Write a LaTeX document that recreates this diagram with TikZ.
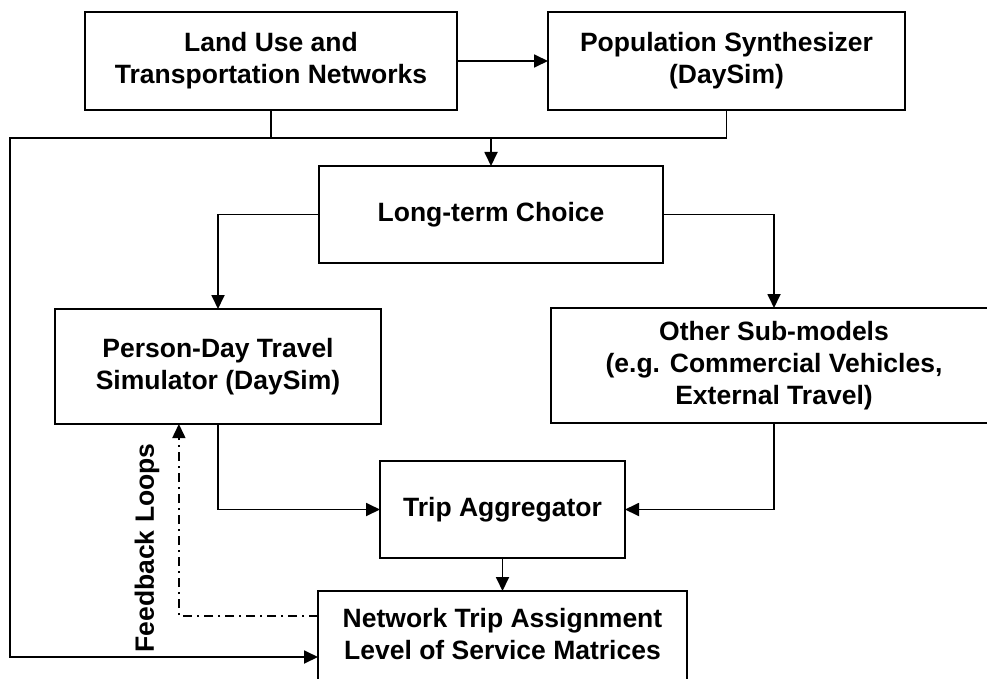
\documentclass[tikz,border=0pt]{standalone}
\usepackage{fontspec}
\setmainfont{Liberation Sans}
\usetikzlibrary{arrows.meta,calc}
\begin{document}
\begin{tikzpicture}[x=1pt,y=-1pt,
  every node/.style={inner sep=0pt, outer sep=0pt},
  txt/.style={font=\fontsize{26.5}{32}\selectfont\bfseries, align=center},
  box/.style={draw, line width=1.8pt, txt},
  conn/.style={line width=1.8pt},
  arr/.style={conn, -{Triangle[length=14pt,width=13pt]}},
  fb/.style={line width=1.5pt, dash pattern=on 9pt off 5pt on 2pt off 5pt, -{Triangle[length=14pt,width=13pt]}}]
\useasboundingbox (0,0) rectangle (987,679);
\clip (0,0) rectangle (987,679);
\fill[white] (0,0) rectangle (987,679);

\node[box, minimum width=372pt, minimum height=98pt] (land) at (271,61) {Land Use and\\Transportation Networks};
\node[box, minimum width=357pt, minimum height=98pt] (pop) at (726.5,61) {Population Synthesizer\\(DaySim)};
\node[box, minimum width=344pt, minimum height=97pt] (ltc) at (491,214.5) {Long-term Choice};
\node[box, minimum width=326pt, minimum height=115pt] (pd) at (218,366.5) {Person-Day Travel\\Simulator (DaySim)};
\node[box, minimum width=446pt, minimum height=115pt] (oth) at (774,365.5) {Other Sub-models\\(e.g. Commercial Vehicles,\\External Travel)};
\node[box, minimum width=245pt, minimum height=97pt] (agg) at (502.5,509.5) {Trip Aggregator};
\node[draw, line width=1.8pt, minimum width=369pt, minimum height=120pt, anchor=north west] (net) at (318,591) {};
\node[txt] (nettxt) at (502.5,634) {Network Trip Assignment\\Level of Service Matrices};
\node[txt, rotate=90] (fbl) at (147,548) {Feedback Loops};

\coordinate (busL) at (10,138);
\coordinate (netin) at (318,657);
\coordinate (fbstart) at (318,616);
\coordinate (fbend) at ($(pd.south west)!0.38!(pd.south east)$);

\draw[arr] (land.east) -- (pop.west);
\draw[conn] (land.south) -- (land.south |- busL);
\draw[arr] (pop.south) |- (busL) |- (netin);
\draw[arr] (ltc.north |- busL) -- (ltc.north);
\draw[arr] (ltc.west) -| (pd.north);
\draw[arr] (ltc.east) -| (oth.north);
\draw[arr] (pd.south) |- (agg.west);
\draw[arr] (oth.south) |- (agg.east);
\draw[arr] (agg.south) -- (agg.south |- net.north);
\draw[fb] (fbstart) -| (fbend);
\end{tikzpicture}
\end{document}
